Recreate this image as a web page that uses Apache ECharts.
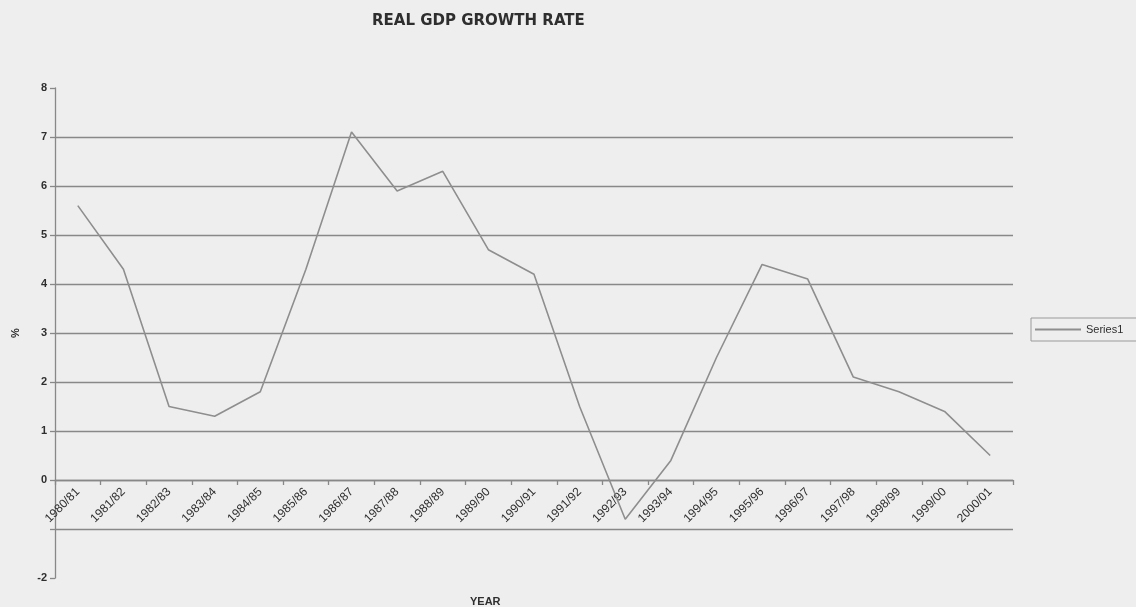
<!DOCTYPE html>
<html>
<head>
<meta charset="utf-8">
<title>Real GDP Growth Rate</title>
<script src="https://cdn.jsdelivr.net/npm/echarts@6/dist/echarts.min.js"></script>
<style>
  html, body { margin: 0; padding: 0; background: #eeeeee; }
  #chart { width: 1136px; height: 607px; }
</style>
</head>
<body>
<div id="chart"></div>
<script>
// Fiscal years on the category axis
const years = [
  '1980/81', '1981/82', '1982/83', '1983/84', '1984/85', '1985/86', '1986/87',
  '1987/88', '1988/89', '1989/90', '1990/91', '1991/92', '1992/93', '1993/94',
  '1994/95', '1995/96', '1996/97', '1997/98', '1998/99', '1999/00', '2000/01'
];

// Real GDP growth, percent
const growth = [
  5.6, 4.3, 1.5, 1.3, 1.8, 4.3, 7.1,
  5.9, 6.3, 4.7, 4.2, 1.5, -0.8, 0.4,
  2.5, 4.4, 4.1, 2.1, 1.8, 1.4, 0.5
];

// Value axis range and step
const yMin = -2;
const yMax = 8;
const yStep = 1;

const chart = echarts.init(document.getElementById('chart'), null, { renderer: 'canvas' });

const textColor = '#2e2e2e';
const lineGray = '#888888';
const font = 'Liberation Sans, Arial, sans-serif';

const gridTop = 88;
const gridBottom = 29;
const plotHeight = 607 - gridTop - gridBottom;
// the category axis sits on the zero line, so shift it up from the grid bottom
const zeroOffset = -plotHeight * (0 - yMin) / (yMax - yMin);

chart.setOption({
  backgroundColor: '#eeeeee',
  animation: false,
  title: [
    {
      text: 'REAL GDP GROWTH RATE',
      left: 367,
      top: 9,
      textStyle: { fontFamily: 'DejaVu Sans, sans-serif', fontSize: 15, fontWeight: 'bold', color: textColor }
    },
    {
      text: 'YEAR',
      left: 465,
      top: 591,
      textStyle: { fontFamily: font, fontSize: 11, fontWeight: 'bold', color: textColor }
    }
  ],
  legend: {
    left: 1031,
    top: 318,
    orient: 'vertical',
    itemWidth: 46,
    itemHeight: 2,
    itemGap: 4,
    padding: [6, 14, 6, 4],
    borderColor: '#9a9a9a',
    borderWidth: 1,
    textStyle: { fontFamily: font, fontSize: 11, color: textColor },
    data: [{ name: 'Series1', icon: 'rect' }]
  },
  grid: {
    left: 55,
    right: 123,
    top: gridTop,
    bottom: gridBottom,
    containLabel: false
  },
  xAxis: {
    type: 'category',
    data: years,
    boundaryGap: true,
    position: 'bottom',
    offset: zeroOffset,
    axisLine: { onZero: false, lineStyle: { color: lineGray, width: 1.3 } },
    axisTick: { show: true, length: 5, lineStyle: { color: lineGray, width: 1.3 } },
    axisLabel: {
      rotate: 45,
      interval: 0,
      margin: 10,
      fontFamily: font,
      fontSize: 12,
      color: textColor
    },
    splitLine: { show: false }
  },
  yAxis: {
    type: 'value',
    min: yMin,
    max: yMax,
    interval: yStep,
    name: '%',
    nameLocation: 'middle',
    nameGap: 34,
    nameRotate: 90,
    nameTextStyle: { fontFamily: font, fontSize: 11, fontWeight: 'bold', color: textColor },
    axisLine: { show: true, lineStyle: { color: lineGray, width: 1.3 } },
    axisTick: { show: true, length: 5, lineStyle: { color: lineGray, width: 1.3 } },
    axisLabel: {
      margin: 8,
      fontFamily: font,
      fontSize: 11,
      fontWeight: 'bold',
      color: textColor,
      // the -1 label sits under the first category label, so it is left blank
      formatter: function (v) { return v === -1 ? '' : String(v); }
    },
    splitLine: {
      show: true,
      showMinLine: false,
      showMaxLine: false,
      lineStyle: { color: lineGray, width: 1.3 }
    }
  },
  series: [
    {
      name: 'Series1',
      type: 'line',
      data: growth,
      symbol: 'none',
      lineStyle: { color: '#8e8e8e', width: 1.6 },
      itemStyle: { color: '#8e8e8e' }
    }
  ]
});
</script>
</body>
</html>
